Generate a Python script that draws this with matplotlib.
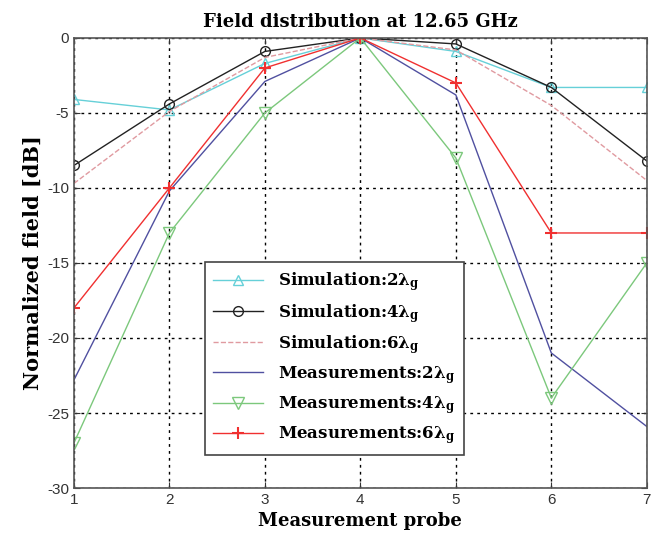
import matplotlib.pyplot as plt

probes = [1, 2, 3, 4, 5, 6, 7]

sim_2lg = [-4.1, -4.8, -1.7, 0, -0.9, -3.3, -3.3]
sim_4lg = [-8.5, -4.4, -0.9, 0, -0.4, -3.3, -8.2]
sim_6lg = [-9.7, -4.9, -1.3, 0, -0.8, -4.5, -9.5]
meas_2lg = [-22.8, -10.2, -2.9, 0, -3.8, -21.0, -25.9]
meas_4lg = [-27.0, -13.0, -5.0, 0, -8.0, -24.0, -15.0]
meas_6lg = [-18.0, -10.0, -2.0, 0, -3.0, -13.0, -13.0]

x_ticks = [1, 2, 3, 4, 5, 6, 7]
y_ticks = [-30, -25, -20, -15, -10, -5, 0]

plt.rcParams["mathtext.fontset"] = "dejavuserif"
plt.rcParams["axes.unicode_minus"] = False

SERIF = "DejaVu Serif"
SANS = "Liberation Sans"

fig = plt.figure(figsize=(6.6, 5.42), dpi=100, facecolor="white")
ax = fig.add_axes([0.112, 0.0996, 0.868, 0.8304])

ax.plot(probes, sim_2lg, color="#66d0d8", marker="^", markersize=7,
        markerfacecolor="none", linewidth=1.0, label=r"Simulation:2λ$_\mathbf{g}$")
ax.plot(probes, sim_4lg, color="#222222", marker="o", markersize=7,
        markerfacecolor="none", linewidth=1.0, label=r"Simulation:4λ$_\mathbf{g}$")
ax.plot(probes, sim_6lg, color="#e09aa0", linestyle="--", linewidth=1.0,
        label=r"Simulation:6λ$_\mathbf{g}$")
ax.plot(probes, meas_2lg, color="#5050a0", linewidth=1.0,
        label=r"Measurements:2λ$_\mathbf{g}$")
ax.plot(probes, meas_4lg, color="#7cc87c", marker="v", markersize=8,
        markerfacecolor="none", linewidth=1.0, label=r"Measurements:4λ$_\mathbf{g}$")
ax.plot(probes, meas_6lg, color="#f03030", marker="+", markersize=8,
        markeredgewidth=1.5, linewidth=1.0, label=r"Measurements:6λ$_\mathbf{g}$")

ax.set_xlim(1, 7)
ax.set_ylim(-30, 0)
ax.set_xticks(x_ticks)
ax.set_yticks(y_ticks)
ax.grid(True, linestyle=(0, (2, 3)), color="black", linewidth=1.0)

for spine in ax.spines.values():
    spine.set_color("#555555")
    spine.set_linewidth(1.2)

ax.tick_params(direction="in", labelsize=11, colors="#333333", length=4,
               top=True, right=True)
for label in ax.get_xticklabels() + ax.get_yticklabels():
    label.set_family(SANS)

ax.set_title("Field distribution at 12.65 GHz", fontsize=13, fontweight="bold",
             family=SERIF, pad=8)
ax.set_xlabel("Measurement probe", fontsize=13, fontweight="bold", family=SERIF,
              labelpad=4)
ax.set_ylabel("Normalized field [dB]", fontsize=15, fontweight="bold", family=SERIF,
              labelpad=3)

legend = ax.legend(loc="upper left", bbox_to_anchor=(0.229, 0.502),
                   borderaxespad=0,
                   prop={"family": SERIF, "weight": "bold", "size": 12},
                   fancybox=False, framealpha=1, edgecolor="#444444",
                   handlelength=3.0, handletextpad=0.9, labelspacing=0.5,
                   borderpad=0.5)
legend.get_frame().set_linewidth(1.2)

plt.savefig("out.png", dpi=100)
plt.close(fig)
